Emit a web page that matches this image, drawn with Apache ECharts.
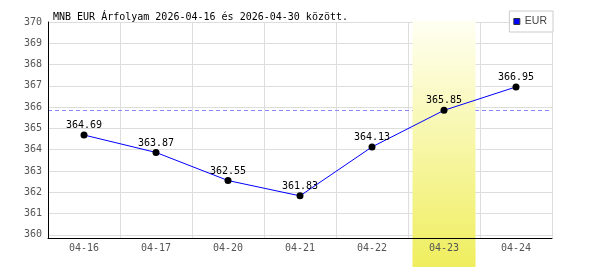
<!DOCTYPE html>
<html>
<head>
<meta charset="utf-8">
<script src="https://cdn.jsdelivr.net/npm/echarts@6/dist/echarts.min.js"></script>
<style>html,body{margin:0;padding:0;background:#fff;}#c{width:600px;height:270px;}</style>
</head>
<body>
<div id="c"></div>
<script>
const titleText = 'MNB EUR Árfolyam 2026-04-16 és 2026-04-30 között.';
const seriesName = 'EUR';
const categories = ['04-16', '04-17', '04-20', '04-21', '04-22', '04-23', '04-24'];
const eurValues = [364.69, 363.87, 362.55, 361.83, 364.13, 365.85, 366.95];
const yTicks = [360, 361, 362, 363, 364, 365, 366, 367, 368, 369, 370];
const yMin = 359.85;
const yMax = 370;
const highlightDay = '04-23';
const refLineValue = 365.85;

const bandData = categories.map(c => (c === highlightDay ? 1 : null));
const mono = 'DejaVu Sans Mono';

const chart = echarts.init(document.getElementById('c'), null, { renderer: 'canvas' });
const gridCommon = { left: 48, right: 48 };
chart.setOption({
  animation: false,
  backgroundColor: '#fff',
  title: {
    text: titleText, left: 53, top: 12, padding: 0,
    textStyle: { fontFamily: mono, fontSize: 10, fontWeight: 'normal', color: '#000' }
  },
  legend: {
    right: 47, top: 11, orient: 'horizontal',
    backgroundColor: '#fff', borderColor: '#ccc', borderWidth: 1, borderRadius: 0,
    padding: [5, 6, 5, 4], itemWidth: 6, itemHeight: 6, itemGap: 5,
    textStyle: { fontFamily: 'Liberation Sans', fontSize: 10.5, color: '#444' },
    data: [{ name: seriesName, icon: 'rect', itemStyle: { color: '#0000ff', borderColor: '#333', borderWidth: 1 } }],
    z: 10
  },
  grid: [
    Object.assign({ top: 22, bottom: 32 }, gridCommon),
    Object.assign({ top: 21, bottom: 3 }, gridCommon)
  ],
  xAxis: [
    { type: 'category', data: categories, gridIndex: 0, position: 'bottom', boundaryGap: true, z: 0,
      axisLine: { show: false }, axisTick: { show: false }, axisLabel: { show: false },
      splitLine: { show: true, interval: 0, lineStyle: { color: '#dddddd', width: 1 } } },
    { type: 'category', data: categories, gridIndex: 0, position: 'bottom', offset: 0, boundaryGap: true, z: 3,
      axisLine: { show: true, onZero: false, lineStyle: { color: '#000', width: 1 } },
      axisTick: { show: false },
      axisLabel: { show: true, interval: 0, margin: 5, fontFamily: mono, fontSize: 10, color: '#555' },
      splitLine: { show: false } },
    { type: 'category', data: categories, gridIndex: 1, show: false }
  ],
  yAxis: [
    { type: 'value', gridIndex: 0, position: 'left', min: yMin, max: yMax, splitNumber: 10, z: 0,
      axisLine: { show: false }, axisTick: { show: false, customValues: yTicks },
      axisLabel: { show: false, customValues: yTicks },
      splitLine: { show: true, lineStyle: { color: '#dddddd', width: 1 } } },
    { type: 'value', gridIndex: 0, position: 'left', offset: 0, min: yMin, max: yMax, splitNumber: 10, z: 3,
      axisLine: { show: true, onZero: false, lineStyle: { color: '#000', width: 1 } },
      axisTick: { show: false, customValues: yTicks },
      axisLabel: { show: true, customValues: yTicks, margin: 6, fontFamily: mono, fontSize: 10, color: '#555' },
      splitLine: { show: false } },
    { type: 'value', gridIndex: 1, min: 0, max: 1, show: false }
  ],
  series: [
    {
      name: 'band', type: 'bar', xAxisIndex: 2, yAxisIndex: 2, data: bandData,
      barWidth: '87.5%', silent: true, z: 1, legendHoverLink: false,
      itemStyle: {
        color: new echarts.graphic.LinearGradient(0, 0, 0, 1, [
          { offset: 0, color: '#fffff2' },
          { offset: 1, color: '#efee5e' }
        ])
      }
    },
    {
      name: seriesName, type: 'line', xAxisIndex: 0, yAxisIndex: 0, data: eurValues, z: 4,
      symbol: 'circle', symbolSize: 7,
      lineStyle: { color: '#0000ff', width: 1 },
      itemStyle: { color: '#000' },
      label: { show: true, position: 'top', distance: 1, fontFamily: mono, fontSize: 10, color: '#000',
        formatter: p => p.value.toFixed(2) },
      markLine: {
        z: 0, silent: true, symbol: ['none', 'none'], label: { show: false },
        lineStyle: { type: [4, 3], color: '#8888ff', width: 1 },
        data: [{ yAxis: refLineValue }]
      }
    }
  ]
});
</script>
</body>
</html>
